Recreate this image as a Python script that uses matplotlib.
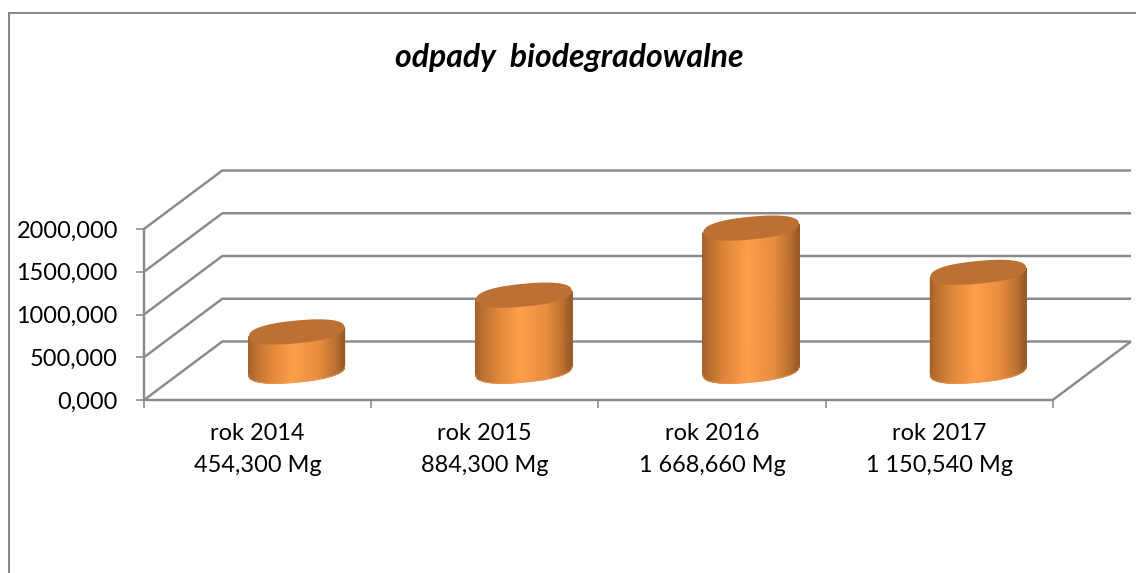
import numpy as np
import matplotlib
matplotlib.use("Agg")
import matplotlib.pyplot as plt
from matplotlib.colors import LinearSegmentedColormap
from matplotlib.lines import Line2D
from matplotlib.patches import Polygon

title = "odpady  biodegradowalne"
years = ["rok 2014", "rok 2015", "rok 2016", "rok 2017"]
values = [454.300, 884.300, 1668.660, 1150.540]
value_labels = ["454,300 Mg", "884,300 Mg", "1 668,660 Mg", "1 150,540 Mg"]
y_ticks = [0, 500, 1000, 1500, 2000]
y_tick_labels = ["0,000", "500,000", "1000,000", "1500,000", "2000,000"]

W, H = 1136, 573
GREY = "#898989"
FONT = "Lato"
PX = 0.72  # points per pixel at dpi 100

fig = plt.figure(figsize=(W / 100, H / 100), dpi=100, facecolor="white")
L, R, B, T = 144, 1052.7, 400, 229
ax = fig.add_axes([L / W, 1 - B / H, (R - L) / W, (B - T) / H])
ax.set_xlim(0, len(years))
ax.set_ylim(0, 2000)
ax.patch.set_alpha(0)
sx = (R - L) / len(years)      # px per category
sy = (B - T) / 2000            # px per value unit
DX, DY = 78.3 / sx, 58.5 / sy  # floor depth in data units

# walls and floor
line = dict(color=GREY, lw=2.4 * PX, zorder=1, clip_on=False, solid_capstyle="butt")
for v in y_ticks:
    ax.plot([0, DX, len(years) + DX], [v, v + DY, v + DY], **line)
ax.plot([len(years), len(years) + DX], [0, DY], **line)

# cylinders
cmap = LinearSegmentedColormap.from_list("cyl", [
    (0.00, "#A4622A"), (0.06, "#BA6F30"), (0.22, "#DD873A"), (0.47, "#FF9F4A"),
    (0.75, "#E58C3E"), (0.92, "#BA6F30"), (1.00, "#985A27")])
a_px, b_px, shear = 47.8, 11.4, 0.092
POW = 0.85
t = np.linspace(0, 2 * np.pi, 361)


def ellipse(cx, base, tt):
    c, s = np.cos(tt), np.sin(tt)
    xp = a_px * np.sign(c) * np.abs(c) ** POW
    yp = b_px * np.sign(s) * np.abs(s) ** POW + shear * xp
    return cx + xp / sx, base + yp / sy


for i, val in enumerate(values):
    cx = i + 0.5 + DX / 2
    base = DY / 2
    lower = np.linspace(np.pi, 2 * np.pi, 181)
    x0, y0 = ellipse(cx, base, lower)
    _, y1 = ellipse(cx, base + val, lower)
    # side surface as a mesh running from the base outline up to the top outline
    X = np.vstack([x0, x0])
    Y = np.vstack([y0, y1])
    C = (X - X.min()) / (X.max() - X.min())
    ax.pcolormesh(X, Y, C, cmap=cmap, vmin=0, vmax=1, shading="gouraud",
                  zorder=3, clip_on=False)
    # soft anti-aliased outline of the lower rim
    ax.plot(x0, y0, color="#F0A060", lw=0.8, alpha=0.55, zorder=3, clip_on=False)
    xt, yt = ellipse(cx, base + val, t)
    ax.add_patch(Polygon(np.c_[xt, yt], closed=True, fc="#BD7033", ec="none",
                         zorder=4, clip_on=False))
ax.set_xlim(0, len(years))
ax.set_ylim(0, 2000)

# axes
for s in ("top", "right"):
    ax.spines[s].set_visible(False)
for s in ("left", "bottom"):
    ax.spines[s].set_color(GREY)
    ax.spines[s].set_linewidth(2.4 * PX)
    ax.spines[s].set_zorder(2)
ax.set_yticks(y_ticks, y_tick_labels, fontsize=16.9, fontfamily=FONT, color="black")
ax.tick_params(axis="y", length=8 * PX, width=1.6 * PX, color=GREY, pad=18 * PX)
ax.set_xticks(range(len(years) + 1), [""] * (len(years) + 1))
ax.tick_params(axis="x", which="major", length=8 * PX, width=1.6 * PX, color=GREY)
ax.set_xticks(np.arange(len(years)) + 0.5,
              [f"{y}\n{v}" for y, v in zip(years, value_labels)], minor=True)
ax.tick_params(axis="x", which="minor", length=0, pad=23 * PX)
for lab in ax.get_xminorticklabels():
    lab.set_fontsize(16.9)
    lab.set_fontfamily(FONT)
    lab.set_linespacing(1.62)

# frame
fig.add_artist(Line2D([8.5 / W, 8.5 / W, 1], [0, 1 - 13 / H, 1 - 13 / H], color=GREY,
                      lw=2 * PX, solid_joinstyle="miter"))
fig.text(569 / W, 1 - 58 / H, title, ha="center", va="center", fontsize=23,
         fontfamily=FONT, fontweight="bold", fontstyle="italic", color="black")

fig.savefig("out.png", dpi=100)
